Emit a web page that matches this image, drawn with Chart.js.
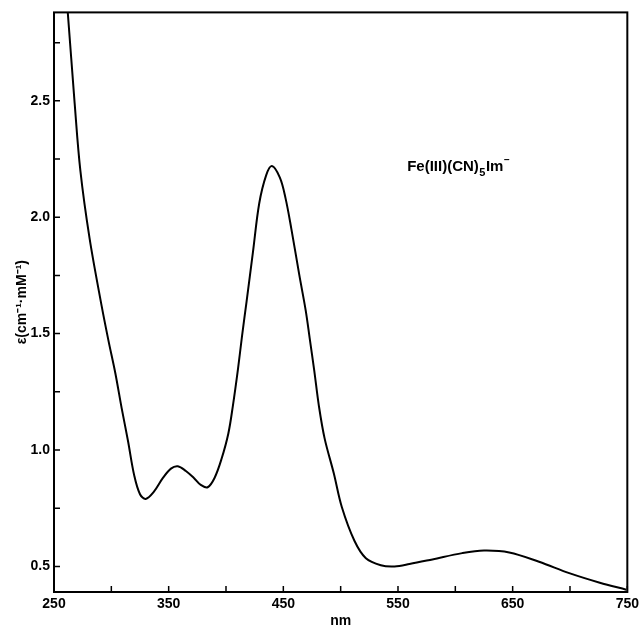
<!DOCTYPE html>
<html>
<head>
<meta charset="utf-8">
<script src="https://cdn.jsdelivr.net/npm/chart.js@4.4.1/dist/chart.umd.min.js"></script>
<style>
  html, body { margin: 0; padding: 0; background: #fff; }
  #wrap { width: 643px; height: 632px; }
</style>
</head>
<body>
<div id="wrap"><canvas id="spectrum" width="643" height="632"></canvas></div>
<script>
const wavelengths = [255, 262, 268, 273, 281, 291.5, 297.5, 303.5, 309, 314.5, 320, 325, 330, 337, 345, 352, 358, 365, 372, 378, 384, 390, 396, 402, 406, 410.5, 414, 418, 423.5, 429, 435, 440, 447, 452, 457, 464, 469.5, 473, 477, 481, 486, 494, 501, 512, 522, 535, 547, 560, 580, 606, 625, 647, 673, 700, 726, 749];
const epsilon = [3.30, 2.88, 2.49, 2.20, 1.91, 1.62, 1.47, 1.33, 1.18, 1.04, 0.89, 0.81, 0.79, 0.82, 0.88, 0.92, 0.93, 0.91, 0.88, 0.85, 0.84, 0.88, 0.96, 1.07, 1.19, 1.35, 1.49, 1.64, 1.85, 2.06, 2.18, 2.22, 2.17, 2.08, 1.95, 1.75, 1.60, 1.48, 1.34, 1.19, 1.05, 0.90, 0.755, 0.61, 0.535, 0.505, 0.50, 0.51, 0.53, 0.557, 0.568, 0.56, 0.52, 0.47, 0.43, 0.40];

const xMin = 250, xMax = 750, xStep = 50;
const xLabelEvery = 100;
const yMin = 0.39, yMax = 2.88, yStep = 0.25;
const yLabelEvery = 0.5;

const seriesLabel = "Fe(III)(CN)5Im-";
const xTitle = "nm";
const yTitle = "ε(cm⁻¹·mM⁻¹)";

const labelFont = "'Liberation Sans', Arial, sans-serif";

const spectrumData = wavelengths.map((x, i) => ({ x, y: epsilon[i] }));

// Marco y marcas hacia adentro
const framePlugin = {
  id: "frame",
  afterDraw(chart) {
    const { ctx, chartArea: a, scales } = chart;
    ctx.save();
    ctx.strokeStyle = "#000";
    ctx.lineWidth = 2;
    ctx.strokeRect(a.left, a.top, a.right - a.left, a.bottom - a.top);
    ctx.lineWidth = 1.5;
    ctx.beginPath();
    scales.x.ticks.forEach((t) => {
      const px = scales.x.getPixelForValue(t.value);
      ctx.moveTo(px, a.bottom);
      ctx.lineTo(px, a.bottom - 6);
    });
    scales.y.ticks.forEach((t) => {
      const py = scales.y.getPixelForValue(t.value);
      ctx.moveTo(a.left, py);
      ctx.lineTo(a.left + 6, py);
    });
    ctx.stroke();
    ctx.restore();
  },
};

// Etiqueta del compuesto
const labelPlugin = {
  id: "compoundLabel",
  afterDatasetsDraw(chart) {
    const { ctx, scales } = chart;
    let x = scales.x.getPixelForValue(558);
    const y = scales.y.getPixelForValue(2.2);
    ctx.save();
    ctx.fillStyle = "#000";
    ctx.textBaseline = "alphabetic";
    ctx.textAlign = "left";
    const parts = [
      { t: "Fe(III)(CN)", size: 15, dy: 0 },
      { t: "5", size: 11, dy: 5 },
      { t: "Im", size: 15, dy: 0 },
      { t: "−", size: 10, dy: -8 },
    ];
    parts.forEach((p) => {
      ctx.font = `bold ${p.size}px ${labelFont}`;
      ctx.fillText(p.t, x, y + p.dy);
      x += ctx.measureText(p.t).width + 0.5;
    });
    ctx.restore();
  },
};

const ctx = document.getElementById("spectrum").getContext("2d");

new Chart(ctx, {
  type: "line",
  data: {
    datasets: [
      {
        label: seriesLabel,
        data: spectrumData,
        borderColor: "#000",
        borderWidth: 2,
        pointRadius: 0,
        fill: false,
        tension: 0.35,
      },
    ],
  },
  options: {
    responsive: false,
    animation: false,
    layout: { padding: { left: 0, right: 15, top: 10, bottom: 0 } },
    scales: {
      x: {
        type: "linear",
        min: xMin,
        max: xMax,
        grid: { display: false, drawTicks: false },
        border: { display: false },
        ticks: {
          stepSize: xStep,
          padding: 4,
          color: "#000",
          font: { family: labelFont, size: 14, weight: "bold" },
          maxRotation: 0,
          autoSkip: false,
          callback: (v) => ((v - xMin) % xLabelEvery === 0 ? String(v) : ""),
        },
        title: {
          display: true,
          text: xTitle,
          color: "#000",
          font: { family: labelFont, size: 14, weight: "bold" },
          padding: { top: 0, bottom: 2 },
        },
        afterFit: (scale) => { scale.height = 40; },
      },
      y: {
        min: yMin,
        max: yMax,
        grid: { display: false, drawTicks: false },
        border: { display: false },
        ticks: {
          stepSize: yStep,
          includeBounds: false,
          padding: 4,
          color: "#000",
          font: { family: labelFont, size: 14, weight: "bold" },
          autoSkip: false,
          callback: (v) => {
            const k = v / yLabelEvery;
            return Math.abs(k - Math.round(k)) < 1e-6 ? v.toFixed(1) : "";
          },
        },
        title: {
          display: true,
          text: yTitle,
          color: "#000",
          font: { family: labelFont, size: 14, weight: "bold" },
          padding: { top: 14, bottom: 0 },
        },
        afterFit: (scale) => { scale.width = 54; },
      },
    },
    plugins: {
      legend: { display: false },
      tooltip: { enabled: false },
    },
  },
  plugins: [framePlugin, labelPlugin],
});
</script>
</body>
</html>
